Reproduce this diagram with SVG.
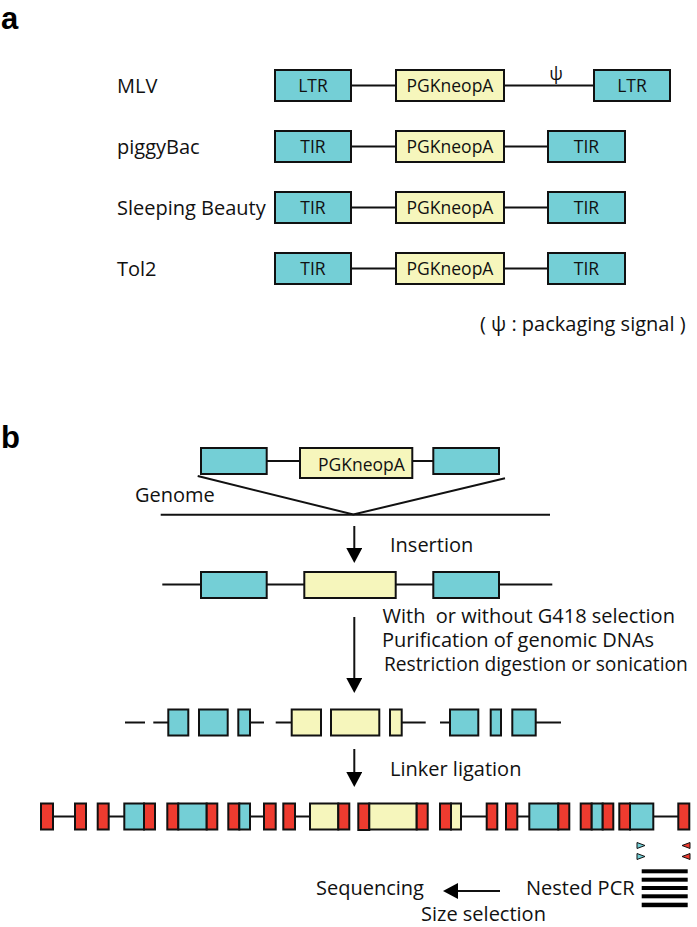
<svg xmlns="http://www.w3.org/2000/svg" width="697" height="927" viewBox="0 0 697 927">
<style>
.cy{fill:#74CFD6;stroke:#111;stroke-width:2}
.ye{fill:#F6F6BC;stroke:#111;stroke-width:2}
.rd{fill:#EE3B2F;stroke:#111;stroke-width:2}
.ln{stroke:#111;stroke-width:2;fill:none}
.lbl{font-family:"Open Sans","Liberation Sans",sans-serif;font-size:20px;fill:#111}
.bx{font-family:"Open Sans","Liberation Sans",sans-serif;font-size:17.5px;fill:#111;text-anchor:middle}
.pan{font-family:"Liberation Sans",Arial,sans-serif;font-size:31px;font-weight:bold;fill:#000}
.bar{fill:#000}
</style>
<defs>
<marker id="ah" markerUnits="userSpaceOnUse" markerWidth="16" markerHeight="16" refX="0" refY="8" orient="auto">
<path d="M0,0 L15,8 L0,16 z" fill="#000"/>
</marker>
</defs>
<rect width="697" height="927" fill="#fff"/>

<text class="pan" x="1" y="28.5">a</text>
<text class="pan" x="1" y="448">b</text>

<!-- Part a -->
<g id="a-connectors">
<line class="ln" x1="351" y1="85.5" x2="396" y2="85.5"/>
<line class="ln" x1="504" y1="85.5" x2="594" y2="85.5"/>
<line class="ln" x1="351" y1="146.5" x2="396" y2="146.5"/>
<line class="ln" x1="504" y1="146.5" x2="548" y2="146.5"/>
<line class="ln" x1="351" y1="207.5" x2="396" y2="207.5"/>
<line class="ln" x1="504" y1="207.5" x2="548" y2="207.5"/>
<line class="ln" x1="351" y1="268.5" x2="396" y2="268.5"/>
<line class="ln" x1="504" y1="268.5" x2="548" y2="268.5"/>
</g>

<g id="mlv">
<text class="lbl" x="117" y="93">MLV</text>
<g id="mlv-ltr1"><rect class="cy" x="275" y="70" width="76" height="31"/><text class="bx" x="313" y="92">LTR</text></g>
<g id="mlv-pgk"><rect class="ye" x="396" y="70" width="108" height="31"/><text class="bx" x="450" y="92">PGKneopA</text></g>
<text class="lbl" x="556" y="80" style="text-anchor:middle;font-size:18px">ψ</text>
<g id="mlv-ltr2"><rect class="cy" x="594" y="70" width="76" height="31"/><text class="bx" x="632" y="92">LTR</text></g>
</g>

<g id="piggybac">
<text class="lbl" x="117" y="154">piggyBac</text>
<g id="pb-tir1"><rect class="cy" x="275" y="131" width="76" height="31"/><text class="bx" x="313" y="153">TIR</text></g>
<g id="pb-pgk"><rect class="ye" x="396" y="131" width="108" height="31"/><text class="bx" x="450" y="153">PGKneopA</text></g>
<g id="pb-tir2"><rect class="cy" x="548" y="131" width="77" height="31"/><text class="bx" x="586.5" y="153">TIR</text></g>
</g>

<g id="sleeping-beauty">
<text class="lbl" x="117" y="215">Sleeping Beauty</text>
<g id="sb-tir1"><rect class="cy" x="275" y="192" width="76" height="31"/><text class="bx" x="313" y="214">TIR</text></g>
<g id="sb-pgk"><rect class="ye" x="396" y="192" width="108" height="31"/><text class="bx" x="450" y="214">PGKneopA</text></g>
<g id="sb-tir2"><rect class="cy" x="548" y="192" width="77" height="31"/><text class="bx" x="586.5" y="214">TIR</text></g>
</g>

<g id="tol2">
<text class="lbl" x="117" y="276">Tol2</text>
<g id="t2-tir1"><rect class="cy" x="275" y="253" width="76" height="31"/><text class="bx" x="313" y="275">TIR</text></g>
<g id="t2-pgk"><rect class="ye" x="396" y="253" width="108" height="31"/><text class="bx" x="450" y="275">PGKneopA</text></g>
<g id="t2-tir2"><rect class="cy" x="548" y="253" width="77" height="31"/><text class="bx" x="586.5" y="275">TIR</text></g>
</g>

<text class="lbl" x="480" y="331">( ψ : packaging signal )</text>

<!-- Part b -->
<g id="b-connectors">
<line class="ln" x1="266.7" y1="461" x2="300" y2="461"/>
<line class="ln" x1="412.3" y1="461" x2="433.3" y2="461"/>
<polyline class="ln" points="197.7,476 353.3,514.5 505,478.3"/>
<line class="ln" x1="160.7" y1="514.7" x2="550" y2="514.7"/>
<line class="ln" x1="354.3" y1="526" x2="354.3" y2="548" marker-end="url(#ah)"/>
<line class="ln" x1="162.3" y1="584.5" x2="552.3" y2="584.5"/>
<line class="ln" x1="354.3" y1="617" x2="354.3" y2="678" marker-end="url(#ah)"/>
<!-- fragments -->
<line class="ln" x1="125" y1="722.5" x2="145" y2="722.5"/>
<line class="ln" x1="153.3" y1="722.5" x2="168.3" y2="722.5"/>
<line class="ln" x1="250" y1="722.5" x2="264" y2="722.5"/>
<line class="ln" x1="275.7" y1="722.5" x2="291.7" y2="722.5"/>
<line class="ln" x1="401.7" y1="722.5" x2="425.7" y2="722.5"/>
<line class="ln" x1="440" y1="722.5" x2="450" y2="722.5"/>
<line class="ln" x1="535.7" y1="722.5" x2="561" y2="722.5"/>
<line class="ln" x1="354.3" y1="749" x2="354.3" y2="772" marker-end="url(#ah)"/>
<!-- linker ligated -->
<line class="ln" x1="53" y1="816.5" x2="75" y2="816.5"/>
<line class="ln" x1="108.7" y1="816.5" x2="124.3" y2="816.5"/>
<line class="ln" x1="250" y1="816.5" x2="264" y2="816.5"/>
<line class="ln" x1="295" y1="816.5" x2="310" y2="816.5"/>
<line class="ln" x1="461" y1="816.5" x2="486.7" y2="816.5"/>
<line class="ln" x1="517.3" y1="816.5" x2="529.3" y2="816.5"/>
<line class="ln" x1="653.3" y1="816.5" x2="678.3" y2="816.5"/>
<line class="ln" x1="500" y1="891" x2="458" y2="891" marker-end="url(#ah)"/>
</g>

<g id="cassette">
<rect class="cy" x="201" y="448" width="65.7" height="26"/>
<g id="cassette-pgk"><rect class="ye" x="300" y="448" width="112.3" height="30"/><text class="bx" x="318" y="471" style="text-anchor:start">PGKneopA</text></g>
<rect class="cy" x="433.3" y="448" width="65.7" height="26"/>
</g>
<text class="lbl" x="135" y="502">Genome</text>
<text class="lbl" x="390" y="552">Insertion</text>

<g id="inserted">
<rect class="cy" x="201" y="572" width="65.7" height="26"/>
<rect class="ye" x="304.3" y="572" width="91.4" height="26"/>
<rect class="cy" x="433.3" y="572" width="65.7" height="26"/>
</g>

<text class="lbl" x="382.5" y="623">With&#160; or without G418 selection</text>
<text class="lbl" x="382" y="647">Purification of genomic DNAs</text>
<text class="lbl" x="384" y="671" style="font-size:19.2px">Restriction digestion or sonication</text>

<g id="fragments">
<rect class="cy" x="168.3" y="709.5" width="20" height="26"/>
<rect class="cy" x="199" y="709.5" width="28.7" height="26"/>
<rect class="cy" x="238.3" y="709.5" width="11.7" height="26"/>
<rect class="ye" x="291.7" y="709.5" width="29.3" height="26"/>
<rect class="ye" x="331" y="709.5" width="48.3" height="26"/>
<rect class="ye" x="390" y="709.5" width="11.7" height="26"/>
<rect class="cy" x="450" y="709.5" width="28.3" height="26"/>
<rect class="cy" x="490.7" y="709.5" width="10.3" height="26"/>
<rect class="cy" x="512.3" y="709.5" width="23.4" height="26"/>
</g>

<text class="lbl" x="390" y="776">Linker ligation</text>

<g id="ligated">
<g id="lig1"><rect class="rd" x="41" y="803.5" width="12" height="26"/><rect class="rd" x="75" y="803.5" width="11" height="26"/></g>
<g id="lig2"><rect class="rd" x="97.7" y="803.5" width="11" height="26"/><rect class="cy" x="124.3" y="803.5" width="19.7" height="26"/><rect class="rd" x="144" y="803.5" width="11" height="26"/></g>
<g id="lig3"><rect class="rd" x="167.3" y="803.5" width="11" height="26"/><rect class="cy" x="178.3" y="803.5" width="28.4" height="26"/><rect class="rd" x="206.7" y="803.5" width="10.6" height="26"/></g>
<g id="lig4"><rect class="rd" x="228.3" y="803.5" width="11" height="26"/><rect class="cy" x="239.3" y="803.5" width="10.7" height="26"/><rect class="rd" x="264" y="803.5" width="11.7" height="26"/></g>
<g id="lig5"><rect class="rd" x="283.3" y="803.5" width="11.7" height="26"/><rect class="ye" x="310" y="803.5" width="28.3" height="26"/><rect class="rd" x="338.3" y="803.5" width="11" height="26"/></g>
<g id="lig6"><rect class="rd" x="358.3" y="803.5" width="11" height="26.5"/><rect class="ye" x="369.3" y="803.5" width="47.4" height="26"/><rect class="rd" x="416.7" y="803.5" width="11" height="26"/></g>
<g id="lig7"><rect class="rd" x="440" y="803.5" width="11" height="26"/><rect class="ye" x="451" y="803.5" width="10" height="26"/><rect class="rd" x="486.7" y="803.5" width="10.6" height="26"/></g>
<g id="lig8"><rect class="rd" x="506" y="803.5" width="11.3" height="26"/><rect class="cy" x="529.3" y="803.5" width="29" height="26"/><rect class="rd" x="558.3" y="803.5" width="11" height="26"/></g>
<g id="lig9"><rect class="rd" x="580.7" y="803.5" width="11" height="26"/><rect class="cy" x="591.7" y="803.5" width="11" height="26"/><rect class="rd" x="602.7" y="803.5" width="10.6" height="26"/></g>
<g id="lig10"><rect class="rd" x="619.3" y="803.5" width="10.7" height="26"/><rect class="cy" x="630" y="803.5" width="23.3" height="26"/><rect class="rd" x="678.3" y="803.5" width="11" height="26"/></g>
</g>

<g id="primers">
<polygon points="637,842.5 645,845.5 637,848.5" fill="#74CFD6" stroke="#111" stroke-width="1"/>
<polygon points="637,853.5 645,856.5 637,859.5" fill="#74CFD6" stroke="#111" stroke-width="1"/>
<polygon points="690,842.5 682,845.5 690,848.5" fill="#EE3B2F" stroke="#111" stroke-width="1"/>
<polygon points="690,853.5 682,856.5 690,859.5" fill="#EE3B2F" stroke="#111" stroke-width="1"/>
</g>

<g id="pcr-products">
<rect class="bar" x="641.7" y="869.3" width="46" height="4"/>
<rect class="bar" x="641.7" y="877.7" width="46" height="4"/>
<rect class="bar" x="641.7" y="886" width="46" height="4"/>
<rect class="bar" x="641.7" y="894.3" width="46" height="4"/>
<rect class="bar" x="641.7" y="902.7" width="46" height="4.5"/>
</g>

<text class="lbl" x="526" y="895">Nested PCR</text>
<text class="lbl" x="316" y="895">Sequencing</text>
<text class="lbl" x="421" y="921">Size selection</text>
</svg>
